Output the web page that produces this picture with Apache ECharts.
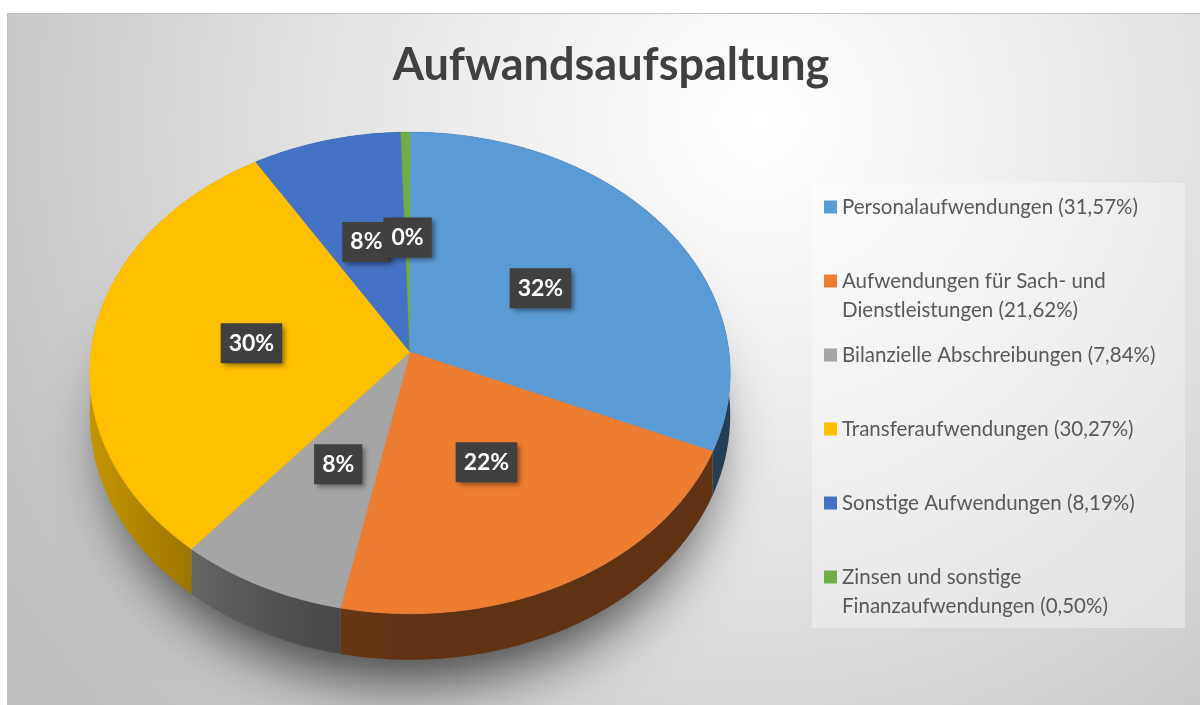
<!DOCTYPE html>
<html>
<head>
<meta charset="utf-8">
<script src="https://cdn.jsdelivr.net/npm/echarts@6/dist/echarts.min.js"></script>
<style>
  html, body { margin: 0; padding: 0; background: #ffffff; }
  #chart { width: 1200px; height: 705px; }
</style>
</head>
<body>
<div id="chart"></div>
<script>
// Aufwandsaufspaltung - 3D Kreisdiagramm
const categories = [
  "Personalaufwendungen",
  "Aufwendungen für Sach- und\nDienstleistungen",
  "Bilanzielle Abschreibungen",
  "Transferaufwendungen",
  "Sonstige Aufwendungen",
  "Zinsen und sonstige\nFinanzaufwendungen",
];
const shares = [31.57, 21.62, 7.84, 30.27, 8.19, 0.5];
const sliceLabels = ["32%", "22%", "8%", "30%", "8%", "0%"];
const colors = ["#5B9BD5", "#ED7D31", "#A5A5A5", "#FFC000", "#4472C4", "#70AD47"];

// pie geometry (perspective disc)
const cx = 410, cy = 352, rx = 319, ry = 239, tilt = 0.087, depth = 42;
const total = shares.reduce((s, v) => s + v, 0);
const starts = [];
let acc = 0;
shares.forEach((v) => { starts.push(acc); acc += v; });

function project(theta, f, dz) {
  const u = Math.sin(theta) * f;
  const v = -Math.cos(theta) * f;
  const w = 1 - tilt * v;
  return [cx + (rx * u) / w, cy + (ry * v + dz) / w];
}

function shade(hex, f) {
  const n = parseInt(hex.slice(1), 16);
  const r = Math.round(((n >> 16) & 255) * f);
  const g = Math.round(((n >> 8) & 255) * f);
  const b = Math.round((n & 255) * f);
  return "rgb(" + r + "," + g + "," + b + ")";
}

function arcPoints(t0, t1, dz) {
  const n = Math.max(2, Math.ceil((t1 - t0) / 0.01));
  const pts = [];
  for (let j = 0; j <= n; j++) {
    pts.push(project(t0 + ((t1 - t0) * j) / n, 1, dz));
  }
  return pts;
}

function wallFill(base) {
  const stops = [];
  for (let p = 0; p <= 10; p++) {
    const u = (2 * p) / 10 - 1;
    const f = 0.4 + 0.37 * Math.pow(Math.max(0, -u), 1.5);
    stops.push({ offset: p / 10, color: shade(base, f) });
  }
  return new echarts.graphic.LinearGradient(cx - rx, 0, cx + rx, 0, stops, true);
}

function renderSlice(i) {
  return function (params, api) {
    const val = api.value(0);
    const t0 = (2 * Math.PI * starts[i]) / total;
    const t1 = (2 * Math.PI * (starts[i] + val)) / total;
    const top = arcPoints(t0, t1, 0);
    const bottom = arcPoints(t0, t1, depth).reverse();
    const apex = project(0, 0, 0);
    const mid = project((t0 + t1) / 2, 0.5, 0);
    return {
      type: "group",
      children: [
        {
          type: "polygon",
          z2: 1,
          shape: { points: top.concat(bottom) },
          style: { fill: wallFill(colors[i]), stroke: null },
        },
        {
          type: "polygon",
          z2: 10,
          shape: { points: [apex].concat(top) },
          style: { fill: colors[i], stroke: colors[i], lineWidth: 0.5 },
        },
        {
          type: "text",
          z2: 20,
          style: {
            text: sliceLabels[i],
            x: mid[0],
            y: mid[1],
            align: "center",
            verticalAlign: "middle",
            fill: "#ffffff",
            fontSize: 23,
            fontWeight: "bold",
            fontFamily: "Lato",
            backgroundColor: "#404040",
            padding: [9, 8, 8, 8],
            shadowBlur: 5,
            shadowColor: "rgba(0,0,0,0.45)",
            shadowOffsetX: 3,
            shadowOffsetY: 3,
          },
        },
      ],
    };
  };
}

const chart = echarts.init(document.getElementById("chart"));

const legends = categories.map((name, i) => {
  const twoLines = name.indexOf("\n") >= 0;
  const rowY = 207 + i * 74;
  return {
    orient: "vertical",
    left: 824,
    top: twoLines ? rowY - 43.5 : rowY - 14.5,
    padding: 0,
    itemWidth: 13,
    itemHeight: 13,
    icon: "rect",
    selectedMode: false,
    data: [name],
    // a blank first line keeps the marker level with the first text line
    formatter: (n) =>
      (twoLines ? " \n" : "") + n + " (" + shares[i].toFixed(2).replace(".", ",") + "%)",
    textStyle: {
      color: "#595959",
      fontSize: 20.5,
      fontFamily: "Lato",
      lineHeight: 29,
    },
  };
});

const option = {
  backgroundColor: "#ffffff",
  animation: false,
  title: {
    text: "Aufwandsaufspaltung",
    left: 606,
    top: 38,
    textAlign: "center",
    textStyle: {
      color: "#404040",
      fontSize: 45,
      fontWeight: "bold",
      fontFamily: "Lato",
    },
  },
  graphic: [
    {
      type: "rect",
      z: -10,
      silent: true,
      shape: { x: 7.5, y: 13.5, width: 1200, height: 700 },
      style: {
        fill: new echarts.graphic.RadialGradient(760, 120, 900, [
          { offset: 0, color: "#ffffff" },
          { offset: 0.35, color: "#ececec" },
          { offset: 1, color: "#bdbdbd" },
        ], true),
        stroke: "#bfbfbf",
        lineWidth: 1,
      },
    },
    {
      type: "rect",
      z: -9,
      silent: true,
      shape: { x: 812, y: 183, width: 373, height: 445 },
      style: { fill: "rgba(255,255,255,0.35)" },
    },
    {
      // soft drop shadow under the pie
      type: "ellipse",
      z: -8,
      silent: true,
      shape: { cx: 410, cy: 415, rx: 300, ry: 236 },
      style: {
        fill: "#888888",
        shadowBlur: 60,
        shadowOffsetY: 30,
        shadowColor: "rgba(0,0,0,0.7)",
      },
    },
  ],
  legend: legends,
  series: categories.map((name, i) => ({
    type: "custom",
    name: name,
    coordinateSystem: "none",
    color: colors[i],
    renderItem: renderSlice(i),
    data: [shares[i]],
  })),
};

chart.setOption(option);
</script>
</body>
</html>
